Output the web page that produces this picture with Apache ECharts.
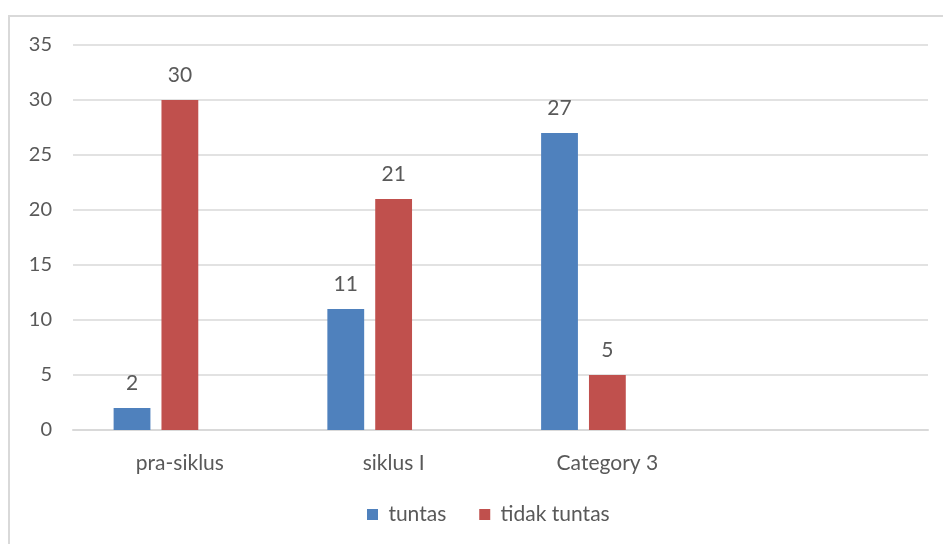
<!DOCTYPE html>
<html><head><meta charset="utf-8">
<script src="https://cdn.jsdelivr.net/npm/echarts@6/dist/echarts.min.js"></script>
<style>html,body{margin:0;padding:0;background:#fff}#c{width:943px;height:544px}</style>
</head><body><div id="c"></div>
<script>
const categories = ['pra-siklus', 'siklus I', 'Category 3', ''];
const tuntas = [2, 11, 27, null];
const tidakTuntas = [30, 21, 5, null];
const emptySeries = [null, null, null, null];
const yTicks = {min: 0, max: 35, interval: 5};

const chart = echarts.init(document.getElementById('c'), null, {renderer: 'canvas'});
const font = 'Lato, "Noto Sans", sans-serif';
const txt = '#595959';
const lbl = {show: true, position: 'top', distance: 14, color: txt, fontSize: 21, fontFamily: font};
chart.setOption({
  animation: false,
  graphic: [{type: 'rect', shape: {x: 9, y: 16, width: 1000, height: 600}, style: {fill: 'none', stroke: '#D9D9D9', lineWidth: 2}, silent: true}],
  grid: {left: 73, right: 15, top: 45, bottom: 114},
  legend: {data: ['tuntas', 'tidak tuntas'], bottom: 14, left: 362, icon: 'rect', itemWidth: 11, itemHeight: 11, itemGap: 33,
    formatter: function (n) { return ' ' + n; },
    textStyle: {color: txt, fontSize: 21, fontFamily: font}},
  xAxis: {type: 'category', data: categories,
    axisLine: {lineStyle: {color: '#D9D9D9', width: 2}}, axisTick: {show: false},
    axisLabel: {color: txt, fontSize: 21, fontFamily: font, margin: 23}},
  yAxis: {type: 'value', min: yTicks.min, max: yTicks.max, interval: yTicks.interval,
    axisLine: {show: false}, axisTick: {show: false},
    axisLabel: {color: txt, fontSize: 20, fontFamily: font, margin: 21},
    splitLine: {lineStyle: {color: '#D9D9D9', width: 1.5}}},
  series: [
    {name: 'tuntas', type: 'bar', data: tuntas, itemStyle: {color: '#4F81BD'}, label: lbl, barGap: '30%', barCategoryGap: '38%'},
    {name: 'tidak tuntas', type: 'bar', data: tidakTuntas, itemStyle: {color: '#C0504D'}, label: lbl},
    {name: 'empty', type: 'bar', data: emptySeries, itemStyle: {color: '#9BBB59'}}
  ]
});
</script></body></html>
